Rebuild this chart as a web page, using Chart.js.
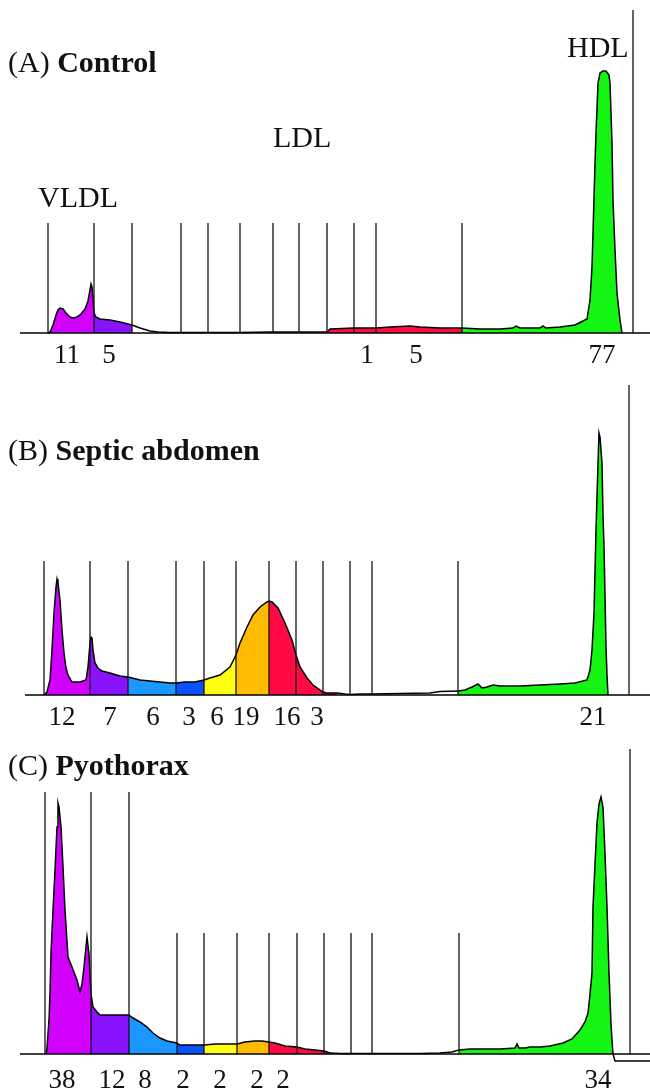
<!DOCTYPE html>
<html>
<head>
<meta charset="utf-8">
<script src="https://cdn.jsdelivr.net/npm/chart.js@4.4.1/dist/chart.umd.min.js"></script>
<style>
    body { margin: 0; background: #fff; }
    #wrap { position: relative; width: 650px; height: 1090px; }
    canvas { position: absolute; left: 0; }
</style>
</head>
<body>
<div id="wrap">
    <canvas id="chartA" width="650" height="380" style="top:0"></canvas>
    <canvas id="chartB" width="650" height="350" style="top:380px"></canvas>
    <canvas id="chartC" width="650" height="360" style="top:730px"></canvas>
</div>
<script>
// fraction colours, left to right
const MAGENTA = '#d200ff';
const VIOLET = '#8a12ff';
const LIGHTBLUE = '#1a98ff';
const BLUE = '#0a52ff';
const YELLOW = '#ffff14';
const ORANGE = '#ffbb00';
const RED = '#ff0a45';
const GREEN = '#14f514';

// (A) Control - densitometry trace (migration distance, intensity)
const xA = [48,50,53,56,58,60,63,66,70,73,77,81,85,88,90,91,92,93,94,96,100,110,120,132,140,150,158,170,181,210,240,270,300,327,330,354,376,390,410,420,440,462,480,500,513,516,520,540,543,546,560,575,583,587,590,592,593,595,596,598,600,603,606,609,610,611,612,613,615,617,620,622];
const yA = [0,1,8,18,23,25,24,20,16,15,16,19,24,32,43,49,46,35,20,16,14,13,11,8,5,2,1,0.5,0.5,0.5,0.5,1,1,1,4,5,5,6,7,6,5,5,4,4,5,7,5,5,7,5,6,8,12,14,33,66,100,170,200,250,260,262,262,258,250,220,190,133,83,40,13,0];
const cutsA = [48, 94, 132, 327, 462, 622];
const colorsA = [MAGENTA, VIOLET, null, RED, GREEN];
const dividersA = [48,94,132,181,208,240,273,299,327,354,376,462,633];
const dividerTopA = [110,110,110,110,110,110,110,110,110,110,110,110,323];
const labelXA = [67,109,367,416,602];
const labelsA = ['11','5','1','5','77'];

// (B) Septic abdomen
const xB = [44,47,50,52,54,56,57,58,60,62,64,66,68,72,80,86,88,90,91,92,93,95,98,102,110,120,128,140,150,160,170,176,185,195,204,210,220,230,236,240,247,253,260,267,269,272,278,285,292,296,300,307,313,323,327,337,345,350,360,372,400,430,440,458,465,472,478,482,487,493,500,520,540,560,575,587,590,592,594,596,598,599,600,602,603,604,605,606,607,608];
const yB = [0,3,15,45,82,108,116,112,95,65,42,27,20,13,13,15,28,52,58,57,45,32,27,24,22,19,18,15,14,13,12,12,13,13,15,17,20,28,40,52,68,80,88,93,94,93,87,72,55,40,28,17,10,3,2,2,1,0.5,1,1,1.5,2,3.5,4,5,8,11,7,8,10,9,9,10,11,12,15,25,45,82,165,232,262,258,232,180,148,100,48,20,0];
const cutsB = [44, 90, 128, 176, 204, 236, 269, 337, 458, 608];
const colorsB = [MAGENTA, VIOLET, LIGHTBLUE, BLUE, YELLOW, ORANGE, RED, null, GREEN];
const dividersB = [44,90,128,176,204,236,269,296,323,350,372,458,629];
const dividerTopB = [134,134,134,134,134,134,134,134,134,134,134,134,310];
const labelXB = [62,110,153,189,217,246,287,317,593];
const labelsB = ['12','7','6','3','6','19','16','3','21'];

// (C) Pyothorax
const xC = [46,47,49,50,51,53,55,57,58,59,60,61,63,65,68,72,77,80,82,84,86,87,89,91,93,97,100,110,120,129,133,140,147,153,160,167,177,180,190,204,215,225,237,245,255,262,269,275,285,297,305,315,324,330,340,351,372,400,420,440,452,459,470,480,500,515,517,519,525,530,540,550,563,572,580,585,588,590,592,593,595,597,599,601,603,605,607,609,611,612,613];
const yC = [0,6,34,61,101,144,184,227,251,247,237,227,187,144,97,87,74,62,70,87,107,117,100,60,47,42,39,39,39,39,36,32,27,21,16,13,11,9,9,9,10,10,10,12,13,13,12,11,8,7,5,4,3,1,0.5,0.5,0.5,0.5,0.5,1,2,4,5,5,5,6,10,6,6,7,7,8,11,15,24,32,41,60,81,147,190,231,250,257,247,200,147,81,30,14,0];
const cutsC = [46, 91, 129, 177, 204, 237, 269, 330, 459, 613];
const colorsC = [MAGENTA, VIOLET, LIGHTBLUE, BLUE, YELLOW, ORANGE, RED, null, GREEN];
const dividersC = [45,91,129,177,204,237,269,297,324,351,372,459,630];
const dividerTopC = [262,262,262,121,121,121,121,121,121,121,121,121,305];
const labelXC = [62,112,145,183,220,257,283,598];
const labelsC = ['38','12','8','2','2','2','2','34'];

const LINE = '#000';
const SERIF = '"Liberation Serif", "Times New Roman", serif';

function buildDatasets(xs, ys, cuts, colors, dividers, tops, baseStart) {
    const sets = [];
    // one filled dataset per fraction
    for (let i = 0; i < cuts.length - 1; i++) {
        const pts = [];
        xs.forEach((x, k) => {
            if (x >= cuts[i] && x <= cuts[i + 1]) pts.push({x: x, y: ys[k]});
        });
        sets.push({
            data: pts,
            borderColor: LINE,
            borderWidth: 1.5,
            backgroundColor: colors[i] || 'transparent',
            fill: colors[i] ? 'origin' : false,
            pointRadius: 0,
            tension: 0,
            order: 1
        });
    }
    dividers.forEach((x, i) => {
        sets.push({
            data: [{x: x, y: 0}, {x: x, y: tops[i]}],
            borderColor: '#111',
            borderWidth: 1.3,
            pointRadius: 0,
            fill: false,
            order: 0
        });
    });
    // baseline
    sets.push({
        data: [{x: baseStart, y: 0}, {x: 650, y: 0}],
        borderColor: LINE,
        borderWidth: 1.5,
        pointRadius: 0,
        fill: false,
        order: 0
    });
    return sets;
}

function textPlugin(panel) {
    return {
        id: 'panelText' + panel.tag,
        afterDraw(chart) {
            const ctx = chart.ctx;
            const xs = chart.scales.x, ys = chart.scales.y;
            ctx.save();
            ctx.fillStyle = '#111';
            ctx.textBaseline = 'alphabetic';
            ctx.textAlign = 'left';
            ctx.font = '30px ' + SERIF;
            ctx.fillText(panel.tag, 8, panel.titleY);
            const w = ctx.measureText(panel.tag).width;
            ctx.font = 'bold 30px ' + SERIF;
            ctx.fillText(panel.title, 8 + w, panel.titleY);

            ctx.font = '30px ' + SERIF;
            (panel.names || []).forEach(n => {
                ctx.fillText(n.text, xs.getPixelForValue(n.x), ys.getPixelForValue(n.y));
            });

            ctx.font = '27px ' + SERIF;
            ctx.textAlign = 'center';
            const base = ys.getPixelForValue(0);
            panel.labelX.forEach((x, i) => {
                ctx.fillText(panel.labels[i], xs.getPixelForValue(x), base + panel.labelGap);
            });
            ctx.restore();
        }
    };
}

function createPanel(id, panel) {
    const canvas = document.getElementById(id);
    const datasets = buildDatasets(panel.xs, panel.ys, panel.cuts, panel.colors, panel.dividers, panel.tops, panel.baseStart);
    if (panel.extra) datasets.push(panel.extra);
    return new Chart(canvas.getContext('2d'), {
        type: 'line',
        data: { datasets: datasets },
        options: {
            responsive: false,
            animation: false,
            events: [],
            layout: { padding: 0 },
            plugins: { legend: { display: false }, tooltip: { enabled: false } },
            scales: {
                x: { type: 'linear', min: 0, max: 650, display: false },
                y: { type: 'linear', min: panel.yMin, max: panel.yMax, display: false }
            }
        },
        plugins: [textPlugin(panel)]
    });
}

createPanel('chartA', {
    tag: '(A) ', title: 'Control', titleY: 72,
    xs: xA, ys: yA, cuts: cutsA, colors: colorsA,
    dividers: dividersA, tops: dividerTopA, baseStart: 20,
    labelX: labelXA, labels: labelsA, labelGap: 30,
    yMin: -47, yMax: 333,
    names: [
        {text: 'VLDL', x: 38, y: 126},
        {text: 'LDL', x: 273, y: 186},
        {text: 'HDL', x: 567, y: 276}
    ]
});

createPanel('chartB', {
    tag: '(B) ', title: 'Septic abdomen', titleY: 80,
    xs: xB, ys: yB, cuts: cutsB, colors: colorsB,
    dividers: dividersB, tops: dividerTopB, baseStart: 25,
    labelX: labelXB, labels: labelsB, labelGap: 30,
    yMin: -35, yMax: 315
});

createPanel('chartC', {
    tag: '(C) ', title: 'Pyothorax', titleY: 45,
    xs: xC, ys: yC, cuts: cutsC, colors: colorsC,
    dividers: dividersC, tops: dividerTopC, baseStart: 20,
    labelX: labelXC, labels: labelsC, labelGap: 34,
    yMin: -36, yMax: 324,
    extra: {
        data: [{x: 613, y: 0}, {x: 615, y: -7}, {x: 650, y: -7}],
        borderColor: LINE, borderWidth: 1.5, pointRadius: 0, fill: false, order: 0
    }
});
</script>
</body>
</html>
